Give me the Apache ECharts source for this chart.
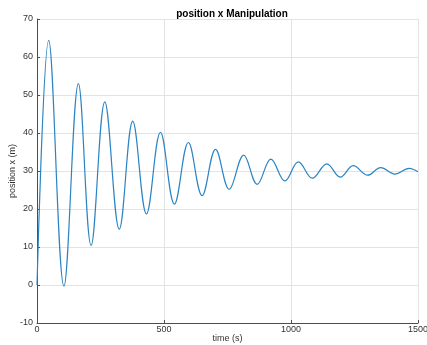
<!DOCTYPE html>
<html>
<head>
<meta charset="utf-8">
<script src="https://cdn.jsdelivr.net/npm/echarts@6/dist/echarts.min.js"></script>
<style>html,body{margin:0;padding:0;background:#fff}#c{width:427px;height:345px}</style>
</head>
<body>
<div id="c"></div>
<script>
// time (s) at the start, the peaks and troughs, and the end
const times = [0, 46, 106, 163, 213, 267, 324, 377, 431, 486, 541, 596, 650, 703, 757, 814, 867, 921, 976, 1029, 1084, 1141, 1194, 1245, 1302, 1353, 1409, 1465, 1500];
// position x (m) at those times
const positions = [0, 64.4, -0.3, 53.0, 10.4, 48.2, 14.7, 43.1, 18.7, 40.2, 21.3, 37.5, 23.5, 35.7, 25.2, 34.2, 26.5, 33.1, 27.4, 32.4, 28.1, 31.9, 28.4, 31.4, 28.9, 30.9, 29.2, 30.7, 29.8];
const xTicks = [0, 500, 1000, 1500];
const yTicks = [-10, 0, 10, 20, 30, 40, 50, 60, 70];

const chart = echarts.init(document.getElementById('c'));
const font = 'Liberation Sans, Arial, sans-serif';
const axisCol = '#4d4d4d';
chart.setOption({
  animation: false,
  title: {
    text: 'position x Manipulation', left: 227, top: 4, textAlign: 'center',
    textStyle: {fontFamily: font, fontSize: 10, fontWeight: 'bold', color: '#000'}
  },
  grid: {left: 37, right: 9, top: 19, bottom: 22, containLabel: false, outerBoundsMode: 'none'},
  xAxis: {
    type: 'value', min: xTicks[0], max: xTicks[xTicks.length - 1], interval: 500,
    name: 'time (s)', nameLocation: 'middle', nameGap: 11, nameMoveOverlap: false,
    nameTextStyle: {fontFamily: font, fontSize: 9, color: '#333'},
    axisLine: {show: true, onZero: false, lineStyle: {color: axisCol, width: 1}},
    axisTick: {show: true, inside: true, length: 3, lineStyle: {color: axisCol}},
    axisLabel: {fontFamily: font, fontSize: 9, color: '#333', margin: 2, formatter: v => String(v)},
    splitLine: {show: true, lineStyle: {color: '#e3e3e3', width: 1}}
  },
  yAxis: {
    type: 'value', min: yTicks[0], max: yTicks[yTicks.length - 1], interval: 10,
    name: 'position x (m)', nameLocation: 'middle', nameGap: 20, nameRotate: 90, nameMoveOverlap: false,
    nameTextStyle: {fontFamily: font, fontSize: 9, color: '#333'},
    axisLine: {show: true, onZero: false, lineStyle: {color: axisCol, width: 1}},
    axisTick: {show: true, inside: true, length: 3, lineStyle: {color: axisCol}},
    axisLabel: {fontFamily: font, fontSize: 9, color: '#333', margin: 4, formatter: v => String(v)},
    splitLine: {show: true, lineStyle: {color: '#e3e3e3', width: 1}}
  },
  series: [{
    type: 'line',
    data: times.map((t, i) => [t, positions[i]]),
    smooth: 0.38,
    showSymbol: false,
    lineStyle: {color: '#2a83c2', width: 1.2}
  }]
});
</script>
</body>
</html>
